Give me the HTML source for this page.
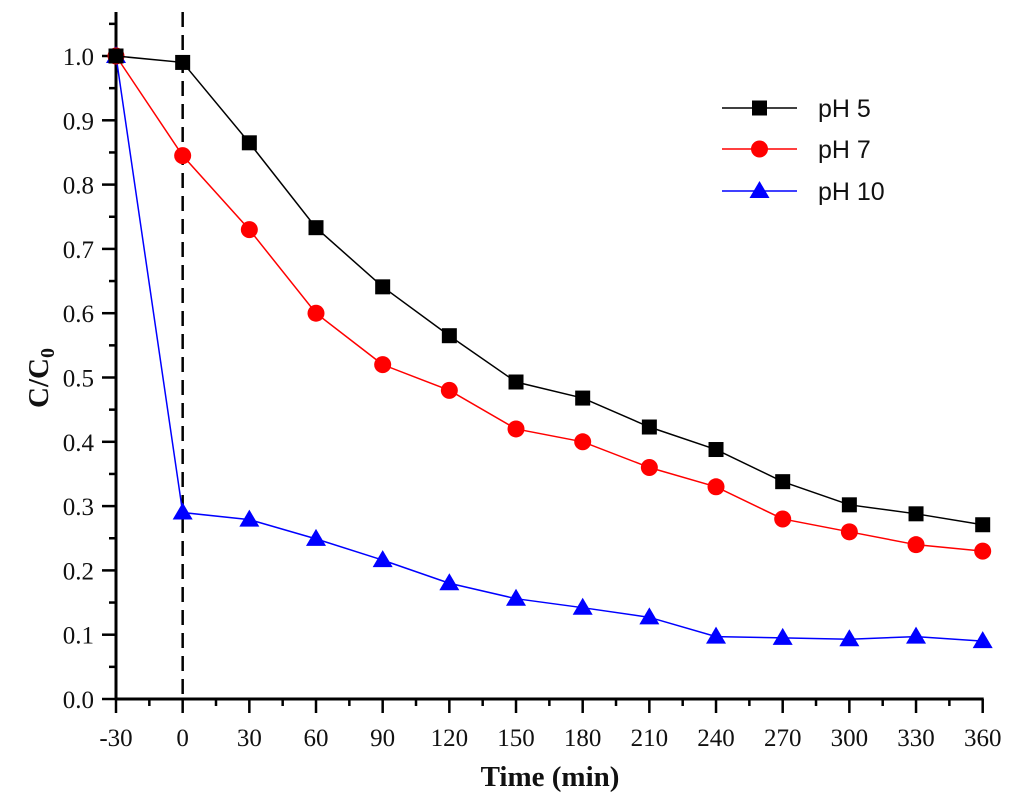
<!DOCTYPE html>
<html><head><meta charset="utf-8"><style>
html,body{margin:0;padding:0;background:#fff;}
svg{display:block;}
.tick{font-family:"Liberation Serif",serif;font-size:25px;fill:#111;}
.title{font-family:"Liberation Serif",serif;font-size:29px;font-weight:bold;fill:#111;}
.leg{font-family:"Liberation Sans",sans-serif;font-size:25px;fill:#111;}
</style></head><body>
<svg id="chart" width="1024" height="812"></svg>
<script>
const times = [-30,0,30,60,90,120,150,180,210,240,270,300,330,360];
const ph5 = [1.0,0.99,0.865,0.733,0.641,0.565,0.493,0.468,0.423,0.388,0.338,0.302,0.288,0.271];
const ph7 = [1.0,0.845,0.73,0.60,0.52,0.48,0.42,0.40,0.36,0.33,0.28,0.26,0.24,0.23];
const ph10 = [1.0,0.29,0.279,0.249,0.216,0.18,0.156,0.142,0.127,0.097,0.095,0.093,0.097,0.09];
const xTicks = [-30,0,30,60,90,120,150,180,210,240,270,300,330,360];
const yTicks = [0.0,0.1,0.2,0.3,0.4,0.5,0.6,0.7,0.8,0.9,1.0];
const yTickLabels = ["0.0","0.1","0.2","0.3","0.4","0.5","0.6","0.7","0.8","0.9","1.0"];

const NS="http://www.w3.org/2000/svg";
const svg=document.getElementById('chart');
const X0=116,X1=982.7,Y0=699,Y1=56;
const sx=v=>X0+(v+30)/390*(X1-X0);
const sy=v=>Y0-v*(Y0-Y1);
function mk(tag,attrs,parent){const e=document.createElementNS(NS,tag);for(const k in attrs)e.setAttribute(k,attrs[k]);(parent||svg).appendChild(e);return e;}

let ax=mk('line',{x1:X0,y1:12,x2:X0,y2:Y0+1,stroke:'#000','stroke-width':3});


ax=mk('line',{x1:X0-1,y1:Y0,x2:X1+1,y2:Y0,stroke:'#000','stroke-width':3});



const dl=mk('line',{x1:sx(0),y1:12,x2:sx(0),y2:Y0,stroke:'#000','stroke-width':2.5,'stroke-dasharray':'15,8'});



xTicks.forEach((t,i)=>{
  mk('line',{x1:sx(t),y1:Y0,x2:sx(t),y2:Y0+14,stroke:'#000','stroke-width':2.5});
  if(i<xTicks.length-1) mk('line',{x1:sx(t+15),y1:Y0,x2:sx(t+15),y2:Y0+7,stroke:'#000','stroke-width':2.5});
  const tx=mk('text',{x:sx(t),y:Y0+47,'text-anchor':'middle',class:'tick'});
  tx.textContent=String(t);
  
  
});
yTicks.forEach((v,i)=>{
  mk('line',{x1:X0-14,y1:sy(v),x2:X0,y2:sy(v),stroke:'#000','stroke-width':2.5});
  mk('line',{x1:X0-7,y1:sy(v+0.05),x2:X0,y2:sy(v+0.05),stroke:'#000','stroke-width':2.5});
  const tx=mk('text',{x:X0-22,y:sy(v)+9,'text-anchor':'end',class:'tick'});
  tx.textContent=yTickLabels[i];
  
  
});

let tt=mk('text',{x:550,y:786,'text-anchor':'middle',class:'title'});
tt.textContent='Time (min)';


tt=mk('text',{x:0,y:0,'text-anchor':'middle',class:'title',transform:'translate(48,378) rotate(-90)'});
tt.innerHTML='C/C<tspan font-size="20" dy="6">0</tspan>';



function marker(g,shape,color,x,y){
  let m;
  if(shape==='square') m=mk('rect',{x:x-7.5,y:y-7.5,width:15,height:15,fill:color},g);
  else if(shape==='circle') m=mk('circle',{cx:x,cy:y,r:8.5,fill:color},g);
  else m=mk('polygon',{points:`${x},${y-10} ${x+10},${y+7} ${x-10},${y+7}`,fill:color},g);
  return m;
}
const series=[[ph10,'blue','triangle','ph10'],[ph7,'red','circle','ph7'],[ph5,'black','square','ph5']];
series.forEach(([vals,color,shape,name])=>{
  const g=mk('g',{});
  
  
  const pl=mk('polyline',{points:vals.map((v,i)=>sx(times[i])+','+sy(v)).join(' '),fill:'none',stroke:color,'stroke-width':1.5},g);
  
  
  vals.forEach((v,i)=>{
    const m=marker(g,shape,color,sx(times[i]),sy(v));
    
    
  });
});

const legItems=[['pH 5','black','square',108],['pH 7','red','circle',149],['pH 10','blue','triangle',191]];
const lg=mk('g',{});


legItems.forEach(([label,color,shape,y])=>{
  const g=mk('g',{},lg);
  
  
  mk('line',{x1:722,y1:y,x2:797,y2:y,stroke:color,'stroke-width':1.5},g);
  marker(g,shape,color,759.5,y);
  const t=mk('text',{x:818,y:y+9,class:'leg'},g);
  t.textContent=label;
});
</script>
</body></html>
